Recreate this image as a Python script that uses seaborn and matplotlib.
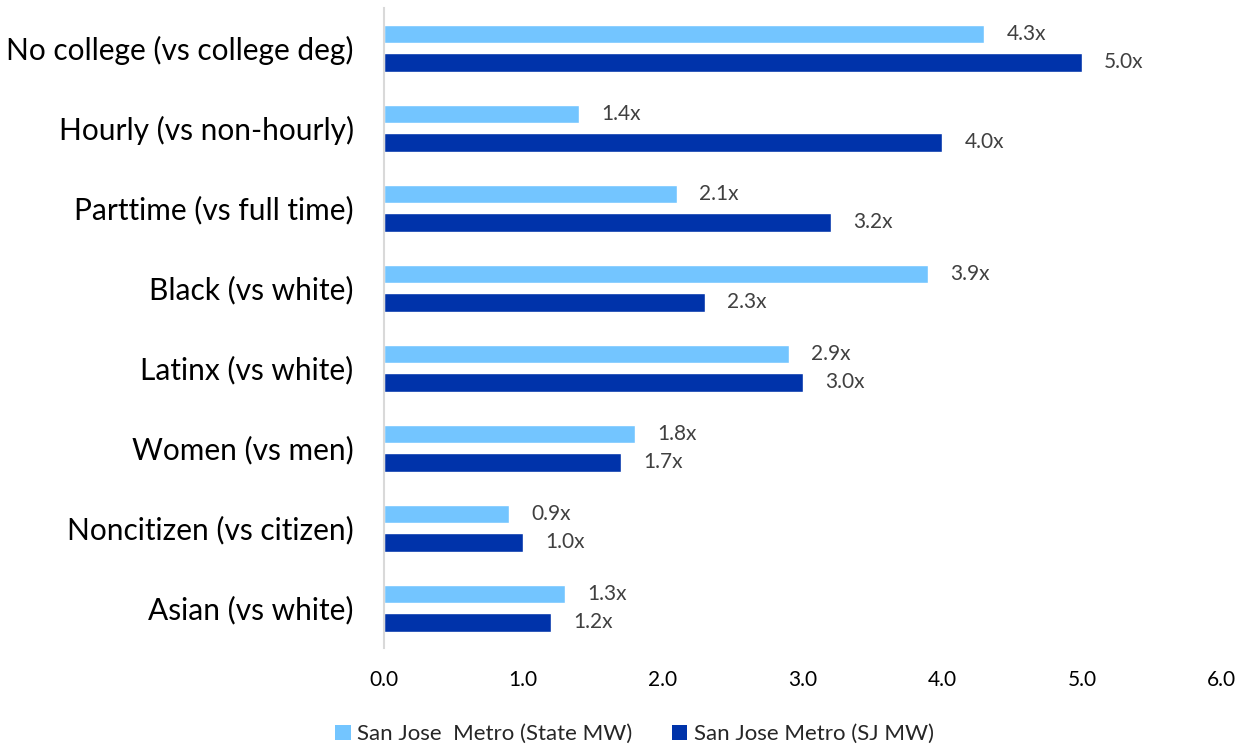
import matplotlib
matplotlib.use("Agg")
import matplotlib.pyplot as plt
import seaborn as sns
import pandas as pd
from matplotlib.patches import Patch

categories = [
    "No college (vs college deg)",
    "Hourly (vs non-hourly)",
    "Parttime (vs full time)",
    "Black (vs white)",
    "Latinx (vs white)",
    "Women (vs men)",
    "Noncitizen (vs citizen)",
    "Asian (vs white)",
]
series_names = ["San Jose  Metro (State MW)", "San Jose Metro (SJ MW)"]
state_mw = [4.3, 1.4, 2.1, 3.9, 2.9, 1.8, 0.9, 1.3]
sj_mw = [5.0, 4.0, 3.2, 2.3, 3.0, 1.7, 1.0, 1.2]
x_ticks = [0.0, 1.0, 2.0, 3.0, 4.0, 5.0, 6.0]

colors = ["#73C5FF", "#0033AA"]

df = pd.DataFrame({
    "category": categories * 2,
    "series": [series_names[0]] * len(categories) + [series_names[1]] * len(categories),
    "value": state_mw + sj_mw,
})

sns.set_theme(style="white")
plt.rcParams["font.family"] = ["Lato", "DejaVu Sans"]

fig = plt.figure(figsize=(12.44, 7.44), dpi=100)
ax = fig.add_axes([0.3083, 0.1290, 0.6737, 0.8602])

sns.barplot(
    data=df, y="category", x="value", hue="series", order=categories,
    hue_order=series_names, palette=colors, orient="h",
    width=0.6, ax=ax, legend=False, saturation=1,
)

# thin bars with a small gap between the pair in each group
bar_h = 0.232
offsets = [-0.175, 0.178]
for container, off in zip(ax.containers, offsets):
    for patch in container:
        center = round(patch.get_y() + patch.get_height() / 2)
        patch.set_height(bar_h)
        patch.set_y(center + off - bar_h / 2)

for container in ax.containers:
    ax.bar_label(container, labels=[f"{v:.1f}x" for v in container.datavalues],
                 padding=16, fontsize=15, color="#404040")

ax.set_xlim(0, 6)
ax.set_ylim(7.5, -0.5)
ax.set_xticks(x_ticks)
ax.set_xticklabels([f"{t:.1f}" for t in x_ticks], fontsize=15, color="#000000")
ax.tick_params(axis="x", length=0, pad=15.5)
ax.tick_params(axis="y", length=0, pad=21.5, labelsize=21.5, labelcolor="#000000")
ax.set_xlabel("")
ax.set_ylabel("")
for side in ["top", "right", "bottom"]:
    ax.spines[side].set_visible(False)
ax.spines["left"].set_color("#D9D9D9")
ax.spines["left"].set_linewidth(1.5)

handles = [Patch(facecolor=c, edgecolor="none") for c in colors]
fig.legend(handles, series_names, loc="lower center", bbox_to_anchor=(0.51, -0.027),
           ncol=2, frameon=False, fontsize=16, handlelength=0.7, handleheight=0.7,
           handletextpad=0.3, columnspacing=1.75)

fig.savefig("out.png", dpi=100)
